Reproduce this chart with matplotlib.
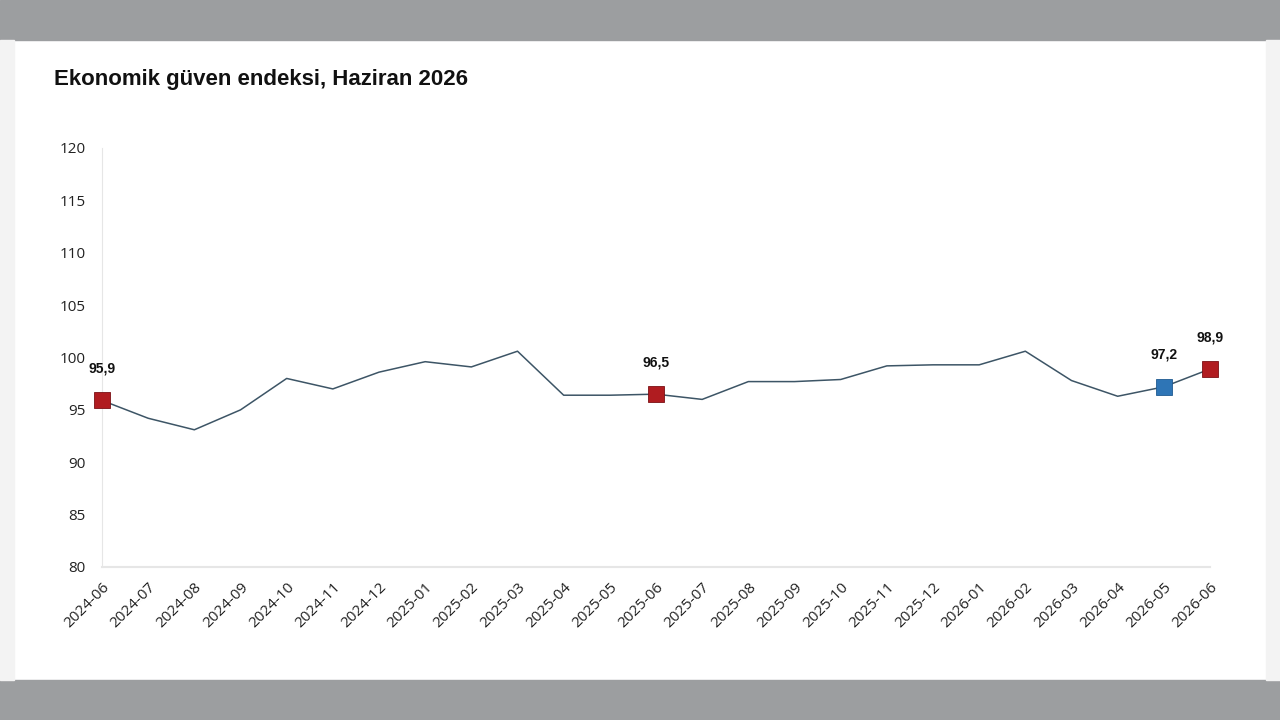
import matplotlib.pyplot as plt
from matplotlib.patches import Rectangle

# Monthly economic confidence index
months = ['2024-06', '2024-07', '2024-08', '2024-09', '2024-10', '2024-11',
          '2024-12', '2025-01', '2025-02', '2025-03', '2025-04', '2025-05',
          '2025-06', '2025-07', '2025-08', '2025-09', '2025-10', '2025-11',
          '2025-12', '2026-01', '2026-02', '2026-03', '2026-04', '2026-05',
          '2026-06']
values = [95.9, 94.2, 93.1, 95.0, 98.0, 97.0, 98.6, 99.6, 99.1, 100.6,
          96.4, 96.4, 96.5, 96.0, 97.7, 97.7, 97.9, 99.2, 99.3, 99.3,
          100.6, 97.8, 96.3, 97.2, 98.9]

# highlighted points: (month, label, colour)
highlights = [('2024-06', '95,9', '#b01c20'),
              ('2025-06', '96,5', '#b01c20'),
              ('2026-05', '97,2', '#2e75b6'),
              ('2026-06', '98,9', '#b01c20')]

yticks = [80, 85, 90, 95, 100, 105, 110, 115, 120]

fig = plt.figure(figsize=(12.8, 7.2), dpi=100)
fig.patch.set_facecolor('white')

# page frame: gray bands top/bottom, light side strips
fig.patches.append(Rectangle((0, 0), 1, 40 / 720, transform=fig.transFigure,
                             color='#9c9ea0', zorder=0))
fig.patches.append(Rectangle((0, 680 / 720), 1, 40 / 720, transform=fig.transFigure,
                             color='#9c9ea0', zorder=0))
fig.patches.append(Rectangle((0, 40 / 720), 14 / 1280, 640 / 720, transform=fig.transFigure,
                             color='#f3f3f3', zorder=0))
fig.patches.append(Rectangle((1266 / 1280, 40 / 720), 14 / 1280, 640 / 720,
                             transform=fig.transFigure, color='#f3f3f3', zorder=0))

ax = fig.add_axes([102 / 1280, 1 - 567 / 720, (1210 - 102) / 1280, (567 - 148) / 720])
ax.set_facecolor('none')

x = list(range(len(months)))
ax.plot(x, values, color='#3d5566', linewidth=1.1, zorder=2)

for m, lab, col in highlights:
    i = months.index(m)
    ax.plot(i, values[i], marker='s', markersize=11, color=col,
            markeredgecolor='#7a1014' if col != '#2e75b6' else '#1f5a90',
            markeredgewidth=0.6, clip_on=False, zorder=3)
    ax.annotate(lab, (i, values[i]), xytext=(0, 23), textcoords='offset points',
                ha='center', va='center', fontsize=10, fontweight='bold',
                family='Liberation Sans', color='#111111')

ax.set_xlim(0, len(months) - 1)
ax.set_ylim(80, 120)
ax.set_yticks(yticks)
ax.set_xticks(x)
ax.set_xticklabels(months, rotation=45, ha='right', rotation_mode='anchor',
                   fontsize=11, family='Open Sans')
for t in ax.get_yticklabels():
    t.set_fontsize(11)
    t.set_family('Open Sans')
ax.tick_params(axis='both', length=0, colors='#222222')
ax.tick_params(axis='y', pad=12)
ax.tick_params(axis='x', pad=9)

for s in ['top', 'right']:
    ax.spines[s].set_visible(False)
ax.spines['left'].set_color('#e6e6e6')
ax.spines['bottom'].set_color('#e6e6e6')
ax.spines['bottom'].set_linewidth(1.5)

fig.text(54 / 1280, 1 - 80 / 720, 'Ekonomik güven endeksi, Haziran 2026',
         fontsize=16, fontweight='bold', family='Liberation Sans',
         ha='left', va='center', color='#111111')

fig.savefig('out.png', dpi=100)
